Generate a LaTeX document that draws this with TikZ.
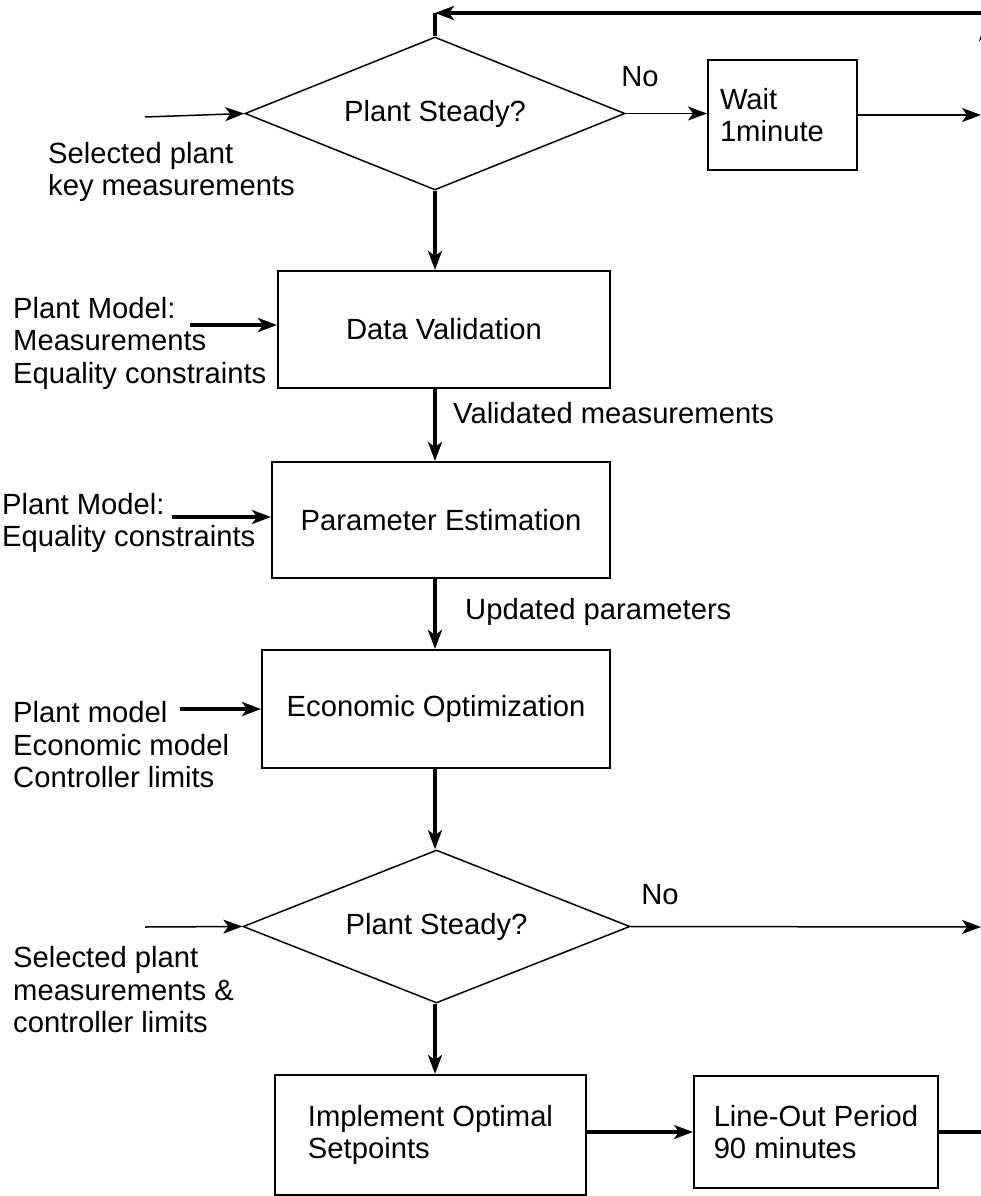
\documentclass[tikz,border=0pt]{standalone}
\usepackage{fontspec}
\setmainfont{Liberation Sans}
\usetikzlibrary{arrows.meta,positioning,shapes.geometric}
\tikzset{box/.style={draw,line width=2pt,align=center,inner sep=0pt},decision/.style={diamond,aspect=2.5,draw,line width=1.5pt,inner sep=0pt,minimum width=380,minimum height=153},note/.style={align=left,inner sep=0pt,anchor=west},thinflow/.style={-{Stealth[length=19pt,width=14pt,inset=5pt]},line width=1.5pt},thickflow/.style={-{Stealth[length=19pt,width=14pt,inset=5pt]},line width=3.5pt},thickline/.style={line width=3.5pt}}

\begin{document}
\begin{tikzpicture}[x=1pt,y=-1pt,font=\fontsize{29.2}{32.5}\selectfont]
      \useasboundingbox(0,0)rectangle(981,1196);
      % main column
      \node[decision](steady1)at(435,113.5){Plant Steady?};
      \node[box,minimum width=149,minimum height=110,text width=125,align=left](wait)at(782.5,115){Wait\\1minute};
      \node[box,minimum width=332,minimum height=117](valid)at(444,329.5){Data Validation};
      \node[box,minimum width=338,minimum height=116](estim)at(441,520){Parameter Estimation};
      \node[box,minimum width=348,minimum height=118](optim)at(436,709){Economic Optimization};
      \node[decision,minimum width=387](steady2)at(436.5,926.5){Plant Steady?};
      \node[box,minimum width=311,minimum height=120,align=left](impl)at(430.5,1135){Implement Optimal\\Setpoints};
      \node[box,minimum width=244,minimum height=112,align=left](lineout)at(816,1132){Line-Out Period\\90 minutes};
      % side texts
      \node[note](keymeas)at(48,172){Selected plant\\key measurements};
      \node[note](model1)at(13,343){Plant Model:\\Measurements\\Equality constraints};
      \node[note](model2)at(2,523){Plant Model:\\Equality constraints};
      \node[note](model3)at(13,745){Plant model\\Economic model\\Controller limits};
      \node[note](ctrlmeas)at(13,990){Selected plant\\measurements \&\\controller limits};
      \node[note](validtxt)at(453,413){Validated measurements};
      \node[note](updtxt)at(465,612){Updated parameters};
      \node(no1)at(640,77){No};
      \node(no2)at(660,895){No};
      % free ends
      \coordinate(in1)at(145,117);
      \coordinate(in2)at(190,325);
      \coordinate(in3)at(172,517);
      \coordinate(in4)at(180,709);
      \coordinate(in5)at(145,927);
      \coordinate(waitout)at(981,115);
      \coordinate(noout)at(981,927);
      \coordinate(lineend)at(985,1132);
      \coordinate(ret)at(990,13);
      \coordinate(retcorner)at(steady1.north|-ret);
      \coordinate(upstart)at(986,90);
      \coordinate(upend)at(986,22);
      % connectors
      \draw[thinflow](in1)--(steady1.west);
      \draw[thinflow](steady1.east)--(wait.west|-steady1.east);
      \draw[thinflow](wait.east)--(waitout);
      \draw[thickflow](steady1.south)--(steady1.south|-valid.north);
      \draw[thickflow](in2)--(in2-|valid.west);
      \draw[thickflow](steady1.south|-valid.south)--(steady1.south|-estim.north);
      \draw[thickflow](in3)--(in3-|estim.west);
      \draw[thickflow](steady1.south|-estim.south)--(steady1.south|-optim.north);
      \draw[thickflow](in4)--(optim.west);
      \draw[thickflow](steady1.south|-optim.south)--(steady1.south|-steady2.north);
      \draw[thinflow](in5)--(steady2.west);
      \draw[thinflow](steady2.east)--(noout);
      \draw[thickflow](steady1.south|-steady2.south)--(steady1.south|-impl.north);
      \draw[thickflow](impl.east|-lineout.west)--(lineout.west);
      \draw[thickline](lineout.east)--(lineend);
      \draw[thickflow](ret)--(retcorner);
      \draw[thickline](retcorner)--(steady1.north);
      \draw[thickflow](upstart)--(upend);
    \end{tikzpicture}
\end{document}
